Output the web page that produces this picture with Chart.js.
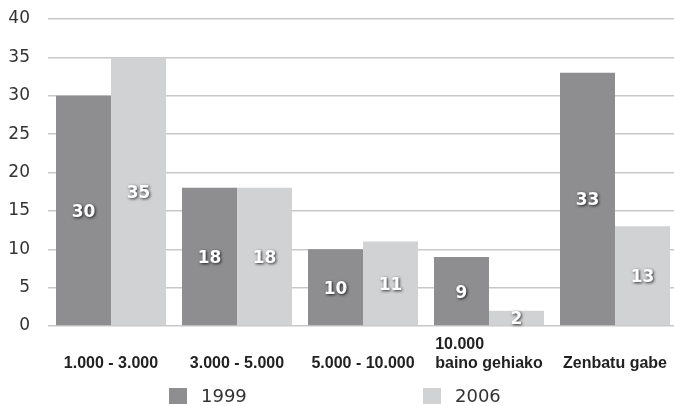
<!DOCTYPE html>
<html>
<head>
<meta charset="utf-8">
<script src="https://cdn.jsdelivr.net/npm/chart.js@4.4.0/dist/chart.umd.min.js"></script>
<style>
  html, body { margin: 0; padding: 0; background: #fff; overflow: hidden; }
  #wrap { width: 674px; height: 406px; overflow: hidden; }
</style>
</head>
<body>
<div id="wrap"><canvas id="chart" width="678" height="406"></canvas></div>
<script>
const categories = ['1.000 - 3.000', '3.000 - 5.000', '5.000 - 10.000', ['10.000', 'baino gehiako'], 'Zenbatu gabe'];
const seriesNames = ['1999', '2006'];
const values1999 = [30, 18, 10, 9, 33];
const values2006 = [35, 18, 11, 2, 13];
const yTicks = [0, 5, 10, 15, 20, 25, 30, 35, 40];

const colors = ['#8e8e91', '#d1d2d4'];

// white numbers with a dark shadow in the middle of every bar
const barLabels = {
  id: 'barLabels',
  afterDatasetsDraw(chart) {
    const ctx = chart.ctx;
    ctx.save();
    ctx.font = 'bold 17px "DejaVu Sans"';
    ctx.textAlign = 'center';
    ctx.textBaseline = 'middle';
    ctx.fillStyle = '#fff';
    ctx.shadowColor = 'rgba(0,0,0,0.8)';
    ctx.shadowBlur = 3;
    ctx.shadowOffsetX = 1;
    ctx.shadowOffsetY = 1;
    chart.data.datasets.forEach(function (ds, i) {
      chart.getDatasetMeta(i).data.forEach(function (bar, j) {
        const mid = (bar.y + bar.base) / 2;
        ctx.fillText(String(ds.data[j]), bar.x, mid + 2);
      });
    });
    ctx.restore();
  }
};

// category labels under the axis, multi-line ones left aligned in their block
const catLabels = {
  id: 'catLabels',
  afterDraw(chart) {
    const ctx = chart.ctx;
    const xs = chart.scales.x;
    const bottom = chart.chartArea.bottom;
    ctx.save();
    ctx.font = 'bold 16px "Liberation Sans"';
    ctx.fillStyle = '#222';
    ctx.textBaseline = 'alphabetic';
    ctx.textAlign = 'left';
    chart.data.labels.forEach(function (lab, i) {
      const lines = Array.isArray(lab) ? lab : [lab];
      const w = Math.max.apply(null, lines.map(function (l) { return ctx.measureText(l).width; }));
      const x = xs.getPixelForValue(i) - w / 2;
      lines.forEach(function (l, k) {
        const y = bottom + 42 - (lines.length - 1 - k) * 19;
        ctx.fillText(l, x, y);
      });
    });
    ctx.restore();
  }
};

// legend at the bottom with wide gap between items
const bottomLegend = {
  id: 'bottomLegend',
  afterDraw(chart) {
    const ctx = chart.ctx;
    const center = 337;
    const offsets = [-168, 86];
    ctx.save();
    ctx.font = '18px "DejaVu Sans"';
    ctx.textBaseline = 'middle';
    ctx.textAlign = 'left';
    chart.data.datasets.forEach(function (ds, i) {
      const x = center + offsets[i];
      ctx.fillStyle = ds.backgroundColor;
      ctx.fillRect(x, 388, 18, 16);
      ctx.fillStyle = '#333';
      ctx.fillText(ds.label, x + 32, 397);
    });
    ctx.restore();
  }
};

new Chart(document.getElementById('chart'), {
  type: 'bar',
  data: {
    labels: categories,
    datasets: [
      { label: seriesNames[0], data: values1999, backgroundColor: colors[0] },
      { label: seriesNames[1], data: values2006, backgroundColor: colors[1] }
    ]
  },
  options: {
    responsive: false,
    animation: false,
    categoryPercentage: 110 / 126,
    barPercentage: 1,
    layout: { padding: { top: 19, bottom: 72, left: 0, right: 0 } },
    plugins: {
      legend: { display: false },
      tooltip: { enabled: false }
    },
    scales: {
      x: {
        grid: { display: false },
        border: { display: false },
        ticks: { display: false }
      },
      y: {
        min: 0,
        max: 40,
        afterBuildTicks: function (scale) {
          scale.ticks = yTicks.map(function (v) { return { value: v }; });
        },
        afterFit: function (scale) {
          scale.width = 48;
          scale.paddingTop = 10;
          scale.paddingBottom = 10;
        },
        grid: { color: '#c8c8c8', lineWidth: 1.5, drawTicks: false },
        border: { display: false },
        ticks: {
          padding: 18,
          color: '#333',
          font: { family: 'DejaVu Sans', size: 17 }
        }
      }
    }
  },
  plugins: [barLabels, catLabels, bottomLegend]
});
</script>
</body>
</html>
